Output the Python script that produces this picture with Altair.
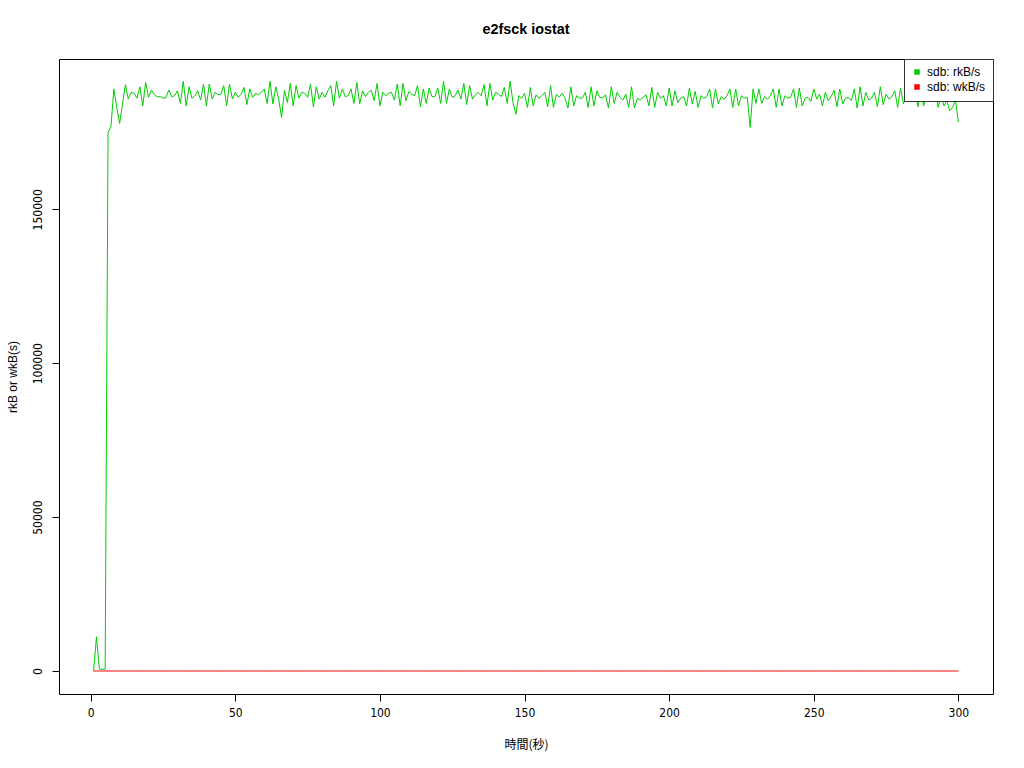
import altair as alt
import pandas as pd

# time (seconds)
t = list(range(1, 301))

# sdb: rkB/s, one row per 10 seconds
rk = [
    0, 11100, 600, 600, 600, 175000, 176800, 189100, 183100, 177900,
    184200, 190500, 185800, 188000, 187700, 186100, 189800, 183600, 191200, 186400,
    188700, 187400, 186400, 186700, 186100, 186200, 188800, 186600, 186900, 188500,
    184400, 191600, 183600, 189800, 186100, 186900, 188500, 185500, 190700, 183600,
    190700, 185800, 188000, 187200, 187400, 190200, 183600, 190700, 185800, 188000,
    186400, 187400, 189600, 184000, 189100, 186400, 187700, 187200, 188000, 189100,
    184400, 191600, 184200, 189800, 185800, 179800, 188700, 184700, 190900, 183600,
    190200, 186100, 188000, 187700, 186400, 190700, 183300, 189800, 185800, 188000,
    186400, 188500, 190200, 183600, 191600, 186100, 189100, 186600, 186900, 189100,
    184400, 191200, 184200, 188500, 186600, 188000, 188700, 185300, 190900, 183600,
    188000, 186900, 187700, 188000, 185500, 190700, 183600, 190900, 185300, 188300,
    187400, 186900, 190200, 183300, 189100, 184400, 189400, 186600, 186600, 189400,
    184400, 191600, 184400, 189100, 186400, 186900, 188700, 185800, 190900, 184000,
    190200, 185800, 187200, 188000, 186900, 190500, 183600, 190900, 185500, 188000,
    187400, 186600, 189600, 184400, 191600, 184700, 180900, 186900, 186100, 187700,
    183100, 189600, 183600, 187200, 186100, 186900, 188000, 183300, 190200, 183100,
    187400, 186400, 187700, 186100, 182900, 189800, 183600, 186900, 186100, 186100,
    188000, 183100, 189800, 183600, 188500, 186400, 186100, 187200, 182900, 189800,
    184400, 188000, 186400, 185500, 187400, 183100, 189800, 182900, 186100, 185500,
    186400, 187200, 183600, 189600, 183100, 188000, 186100, 186900, 183600, 189400,
    183600, 188500, 184700, 186100, 186600, 183600, 189400, 184200, 188300, 183100,
    186900, 186100, 186600, 189100, 182900, 189100, 184200, 186600, 185800, 186900,
    189100, 183100, 189100, 183600, 186900, 186100, 186400, 176600, 189100, 184400,
    189100, 184400, 186600, 185800, 186900, 189100, 183100, 189100, 183600, 186900,
    186100, 186400, 189100, 183100, 189400, 183600, 186100, 186400, 185000, 189100,
    185800, 187400, 183600, 188000, 185300, 186600, 188700, 183300, 189100, 184200,
    186100, 186400, 185300, 189100, 182900, 189800, 183600, 188000, 185500, 186100,
    188000, 183300, 189800, 184000, 187400, 185800, 186600, 188500, 183100, 189400,
    184200, 187200, 185800, 186900, 188500, 183300, 189100, 183600, 187400, 186400,
    186600, 189100, 183100, 187400, 183600, 185300, 182000, 183100, 185500, 178300,
]

# sdb: wkB/s, flat at zero over the whole run
wk = [0] * 300

names = ["sdb: rkB/s", "sdb: wkB/s"]
colors = ["#00CD00", "#FF0000"]
x_ticks = [0, 50, 100, 150, 200, 250, 300]
y_ticks = [0, 50000, 100000, 150000]

series = [names[0]] * len(t) + [names[1]] * len(t)
df = pd.DataFrame({"t": t * 2, "value": rk + wk, "series": series})

num_font = "Liberation Sans Narrow, DejaVu Sans Condensed, sans-serif"

x_enc = alt.X(
    "t:Q",
    scale=alt.Scale(domain=[-10.96, 311.96], nice=False, zero=False),
    axis=alt.Axis(
        values=x_ticks, title="時間(秒)", grid=False, domain=False,
        tickColor="black", tickSize=7, labelFont=num_font, labelFontSize=12,
        labelColor="black", labelPadding=6, titleFont="Noto Sans CJK JP",
        titleFontSize=12, titleFontWeight="normal", titleColor="black",
        titlePadding=21, labelFlush=False,
    ),
)
y_enc = alt.Y(
    "value:Q",
    scale=alt.Scale(domain=[-7470, 198830], nice=False, zero=False),
    axis=alt.Axis(
        values=y_ticks, title="rkB or wkB(s)", grid=False, domain=False,
        tickColor="black", tickSize=7, labelFont=num_font, labelFontSize=12,
        labelColor="black", labelAngle=270, labelPadding=8, labelFlush=False,
        titleFont="Liberation Sans", titleFontSize=12, titleFontWeight="normal",
        titleColor="black", titlePadding=12, format="d",
    ),
)

chart = (
    alt.Chart(df)
    .mark_line(strokeWidth=1)
    .encode(
        x=x_enc,
        y=y_enc,
        color=alt.Color(
            "series:N",
            scale=alt.Scale(domain=names, range=colors),
            legend=alt.Legend(
                title=None, orient="top-right", offset=0, fillColor="white",
                strokeColor="#333333", padding=7, symbolType="square", symbolSize=9,
                symbolStrokeWidth=2.5, symbolOpacity=1, labelFont="Liberation Sans",
                labelFontSize=12, labelColor="black", labelOffset=4, rowPadding=1,
                cornerRadius=0,
            ),
        ),
    )
    .properties(
        width=934,
        height=635,
        autosize=alt.AutoSizeParams(type="none"),
        padding={"left": 51, "top": 51, "right": 15, "bottom": 60},
        view=alt.ViewBackground(stroke="black", strokeWidth=1),
        title=alt.TitleParams(
            "e2fsck iostat", font="Liberation Sans", fontSize=14.4, fontWeight="bold",
            anchor="middle", frame="group", baseline="alphabetic", offset=10, color="black",
        ),
    )
    .configure_view(stroke="black", strokeWidth=1)
    .configure(background="white")
)

chart.save("out.html", embed_options={"renderer": "svg", "actions": False})
